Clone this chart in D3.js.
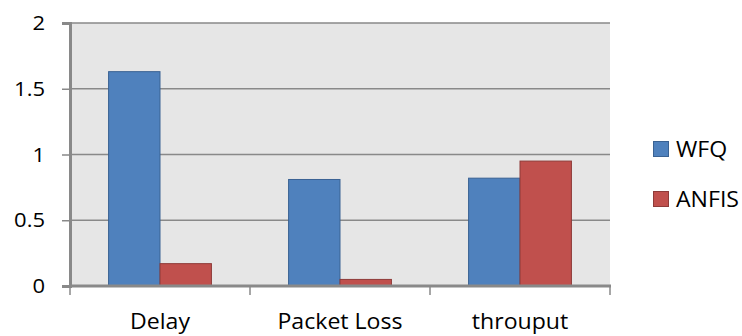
<!DOCTYPE html>
<html>
<head>
<meta charset="utf-8">
<script src="https://cdn.jsdelivr.net/npm/d3@7"></script>
<style>
  html, body { margin: 0; padding: 0; background: #fff; }
  svg { display: block; font-family: "Open Sans", "Liberation Sans", sans-serif; }
</style>
</head>
<body>
<svg id="chart" width="742" height="336"></svg>
<script>
// Categories, series and axis ticks
const categories = ["Delay", "Packet Loss", "throuput"];
const seriesNames = ["WFQ", "ANFIS"];
const wfqValues = [1.63, 0.81, 0.82];
const anfisValues = [0.17, 0.05, 0.95];
const yTicks = [0, 0.5, 1, 1.5, 2];
const yTickLabels = ["0", "0.5", "1", "1.5", "2"];

const seriesValues = [wfqValues, anfisValues];
const fills = ["#4F81BD", "#C0504D"];
const strokes = ["#3A6293", "#8E3B39"];
const axisGray = "#898989";
const widen = 1.1; // horizontal stretch applied to all labels

const svg = d3.select("#chart");
const plot = { left: 70, right: 610, top: 23, bottom: 286 };

const x = d3.scaleBand().domain(categories).range([plot.left, plot.right]).paddingInner(0).paddingOuter(0);
const xInner = d3.scaleBand().domain(seriesNames).range([0, x.bandwidth()]).paddingOuter(0.75).paddingInner(0);
const y = d3.scaleLinear().domain([0, 2]).range([plot.bottom, plot.top]);

// plot background
svg.append("rect")
  .attr("x", plot.left).attr("y", plot.top)
  .attr("width", plot.right - plot.left).attr("height", plot.bottom - plot.top)
  .attr("fill", "#E6E6E6");

// horizontal gridlines
svg.append("g")
  .selectAll("line")
  .data(yTicks.filter(d => d > 0))
  .join("line")
  .attr("x1", plot.left).attr("x2", plot.right)
  .attr("y1", d => y(d)).attr("y2", d => y(d))
  .attr("stroke", axisGray).attr("stroke-width", 1.5);

// bars
const groups = svg.append("g")
  .selectAll("g")
  .data(categories)
  .join("g")
  .attr("transform", d => `translate(${x(d)},0)`);

groups.selectAll("rect")
  .data((c, i) => seriesNames.map((s, j) => ({ s, j, v: seriesValues[j][i] })))
  .join("rect")
  .attr("x", d => xInner(d.s))
  .attr("y", d => y(d.v))
  .attr("width", xInner.bandwidth())
  .attr("height", d => y(0) - y(d.v))
  .attr("fill", d => fills[d.j])
  .attr("stroke", d => strokes[d.j])
  .attr("stroke-width", 1);

// y axis
const yAxis = d3.axisLeft(y)
  .tickValues(yTicks)
  .tickFormat((d, i) => yTickLabels[i])
  .tickSize(8);
const gy = svg.append("g").attr("transform", `translate(${plot.left},0)`).call(yAxis);
gy.select(".domain").attr("stroke", axisGray).attr("stroke-width", 3);
gy.selectAll(".tick line").attr("stroke", axisGray).attr("stroke-width", 1.5);
gy.selectAll(".tick text")
  .attr("x", 0)
  .attr("dy", "0.33em")
  .attr("transform", `translate(-25,0) scale(${widen},1)`)
  .attr("font-size", 20).attr("fill", "#000")
  .attr("font-family", "'Open Sans', sans-serif");

// x axis labels
const xAxis = d3.axisBottom(x).tickSize(0);
const gx = svg.append("g").attr("transform", `translate(0,${plot.bottom})`).call(xAxis);
gx.select(".domain").remove();
gx.selectAll(".tick text")
  .attr("y", 0).attr("dy", 0)
  .attr("transform", `translate(0,43) scale(${widen},1)`)
  .attr("font-size", 21).attr("fill", "#000")
  .attr("font-family", "'Open Sans', sans-serif");

// baseline
svg.append("line")
  .attr("x1", plot.left - 1).attr("x2", plot.right + 1)
  .attr("y1", plot.bottom).attr("y2", plot.bottom)
  .attr("stroke", axisGray).attr("stroke-width", 3);

// category separator ticks below the baseline
svg.append("g")
  .selectAll("line")
  .data(categories.map(c => x(c)).concat([plot.right]))
  .join("line")
  .attr("x1", d => d).attr("x2", d => d)
  .attr("y1", plot.bottom).attr("y2", plot.bottom + 9)
  .attr("stroke", axisGray).attr("stroke-width", 1.5);

// legend
const legend = svg.append("g")
  .selectAll("g")
  .data(seriesNames)
  .join("g")
  .attr("transform", (d, i) => `translate(653,${157 + i * 50})`);
legend.append("rect")
  .attr("x", 0.5).attr("y", -15.5).attr("width", 15).attr("height", 15)
  .attr("fill", (d, i) => fills[i])
  .attr("stroke", (d, i) => strokes[i]).attr("stroke-width", 1);
legend.append("text")
  .attr("transform", `translate(23,0) scale(${widen},1)`)
  .attr("font-size", 21).attr("fill", "#000")
  .text(d => d);
</script>
</body>
</html>
